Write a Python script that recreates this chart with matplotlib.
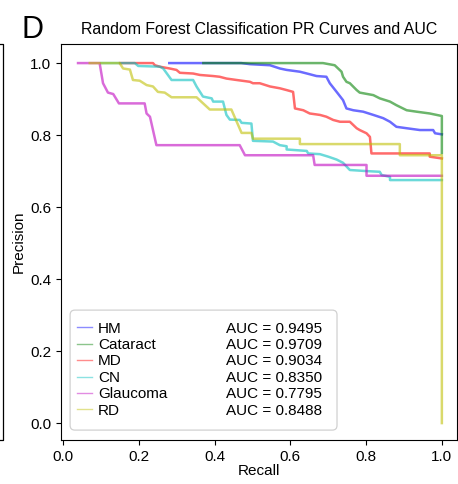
import matplotlib
matplotlib.use("Agg")
import matplotlib.pyplot as plt
from matplotlib.lines import Line2D
from matplotlib.patches import FancyBboxPatch

plt.rcParams['font.family'] = ['Liberation Sans', 'DejaVu Sans']

names = ['HM', 'Cataract', 'MD', 'CN', 'Glaucoma', 'RD']
aucs = [0.9495, 0.9709, 0.9034, 0.8350, 0.7795, 0.8488]
colors = ['b', 'g', 'r', 'c', 'm', 'y']

# recall / precision vertices
hm_recall = [0.28, 0.47, 0.493, 0.546, 0.572, 0.590, 0.625, 0.651, 0.669, 0.695, 0.704, 0.722,
             0.739, 0.748, 0.766, 0.792, 0.819, 0.845, 0.863, 0.880, 0.907, 0.942, 0.977, 0.982, 1.0]
hm_precision = [1.0, 1.0, 0.997, 0.994, 0.985, 0.981, 0.976, 0.969, 0.964, 0.962, 0.944, 0.920,
                0.897, 0.874, 0.869, 0.865, 0.856, 0.847, 0.837, 0.823, 0.819, 0.814, 0.814, 0.805, 0.802]

cat_recall = [0.37, 0.686, 0.717, 0.726, 0.735, 0.739, 0.748, 0.757, 0.775, 0.783, 0.819, 0.836,
              0.863, 0.880, 0.907, 0.933, 0.968, 1.0, 1.0]
cat_precision = [1.0, 1.0, 0.994, 0.985, 0.976, 0.962, 0.948, 0.944, 0.925, 0.918, 0.911, 0.902,
                 0.893, 0.883, 0.869, 0.865, 0.860, 0.853, 0.75]

md_recall = [0.15, 0.237, 0.242, 0.255, 0.281, 0.299, 0.308, 0.343, 0.361, 0.396, 0.413, 0.431,
             0.458, 0.493, 0.501, 0.519, 0.546, 0.572, 0.590, 0.607, 0.612, 0.634, 0.651, 0.678,
             0.695, 0.713, 0.731, 0.757, 0.766, 0.775, 0.783, 0.801, 0.810, 0.814, 0.968, 0.968, 1.0]
md_precision = [1.0, 1.0, 0.994, 0.990, 0.985, 0.981, 0.973, 0.971, 0.967, 0.964, 0.962, 0.957,
                0.953, 0.948, 0.944, 0.944, 0.935, 0.930, 0.925, 0.920, 0.874, 0.869, 0.860, 0.856,
                0.851, 0.842, 0.837, 0.837, 0.828, 0.819, 0.814, 0.805, 0.795, 0.749, 0.749, 0.740, 0.735]

cn_recall = [0.10, 0.189, 0.198, 0.255, 0.264, 0.286, 0.343, 0.352, 0.369, 0.392, 0.396, 0.422,
             0.431, 0.440, 0.466, 0.471, 0.497, 0.501, 0.554, 0.572, 0.590, 0.590, 0.643, 0.647,
             0.678, 0.700, 0.722, 0.739, 0.757, 0.801, 0.836, 0.841, 0.863, 0.863, 1.0]
cn_precision = [1.0, 1.0, 0.992, 0.990, 0.985, 0.953, 0.953, 0.935, 0.907, 0.902, 0.893, 0.893,
                0.856, 0.843, 0.842, 0.834, 0.832, 0.784, 0.782, 0.772, 0.769, 0.760, 0.756, 0.749,
                0.747, 0.740, 0.732, 0.723, 0.703, 0.700, 0.698, 0.689, 0.684, 0.675, 0.675]

gl_recall = [0.039, 0.096, 0.105, 0.118, 0.132, 0.147, 0.215, 0.220, 0.229, 0.246, 0.466, 0.480,
             0.660, 0.664, 0.801, 0.801, 1.0]
gl_precision = [1.0, 1.0, 0.944, 0.918, 0.914, 0.888, 0.888, 0.860, 0.851, 0.772, 0.772, 0.744,
                0.744, 0.717, 0.717, 0.687, 0.687]

rd_recall = [0.070, 0.149, 0.158, 0.176, 0.184, 0.202, 0.220, 0.237, 0.250, 0.268, 0.286, 0.352,
             0.387, 0.444, 0.471, 0.497, 0.501, 0.625, 0.625, 0.889, 0.889, 1.0, 1.0]
rd_precision = [1.0, 1.0, 0.985, 0.982, 0.953, 0.951, 0.939, 0.935, 0.920, 0.918, 0.905, 0.905,
                0.871, 0.871, 0.806, 0.806, 0.790, 0.790, 0.775, 0.775, 0.744, 0.744, 0.0]

recalls = [hm_recall, cat_recall, md_recall, cn_recall, gl_recall, rd_recall]
precisions = [hm_precision, cat_precision, md_precision, cn_precision, gl_precision, rd_precision]

fig = plt.figure(figsize=(4.58, 4.84), dpi=100)
ax = fig.add_axes([61 / 458, 1 - 440 / 484, 396 / 458, 396 / 484])

for r, p, c in zip(recalls, precisions, colors):
    ax.plot(r, p, color=c, alpha=0.58, lw=1.8)

ax.set_xlim(-0.006, 1.04)
ax.set_ylim(-0.047, 1.053)
ax.set_xticks([0.0, 0.2, 0.4, 0.6, 0.8, 1.0])
ax.set_yticks([0.0, 0.2, 0.4, 0.6, 0.8, 1.0])
ax.tick_params(labelsize=11, length=3.5, width=0.8)
ax.set_xlabel('Recall', fontsize=11, labelpad=0)
ax.set_ylabel('Precision', fontsize=11, labelpad=3)
ax.set_title('Random Forest Classification PR Curves and AUC', fontsize=11.4, pad=7)

# legend box is a bit taller than matplotlib's default padding, so draw it by hand
box = FancyBboxPatch((0.023, 0.025), 0.674, 0.303, transform=ax.transAxes,
                     boxstyle='round,pad=0,rounding_size=0.012',
                     fc='white', ec='#cccccc', lw=0.9, alpha=0.9, zorder=4.5)
ax.add_patch(box)

handles = [Line2D([], [], color=c, alpha=0.45, lw=1) for c in colors]
handles += [Line2D([], [], color='none') for _ in names]
labels = names + [f'AUC = {a:.4f}' for a in aucs]
ax.legend(handles, labels, loc='lower left', bbox_to_anchor=(0.04, 0.056), ncol=2,
          fontsize=11, handlelength=1.0, handletextpad=0.4, columnspacing=2.45,
          labelspacing=0.16, borderaxespad=0, borderpad=0, frameon=False)

fig.text(22 / 458, 1 - 38 / 484, 'D', fontsize=22)

# edge of the neighbouring panel
top = 1 - 44 / 484
bot = 1 - 440 / 484
fig.add_artist(Line2D([0, 3 / 458, 3 / 458, 0], [top, top, bot, bot],
                      transform=fig.transFigure, color='k', lw=0.9))

fig.savefig('out.png', dpi=100)
